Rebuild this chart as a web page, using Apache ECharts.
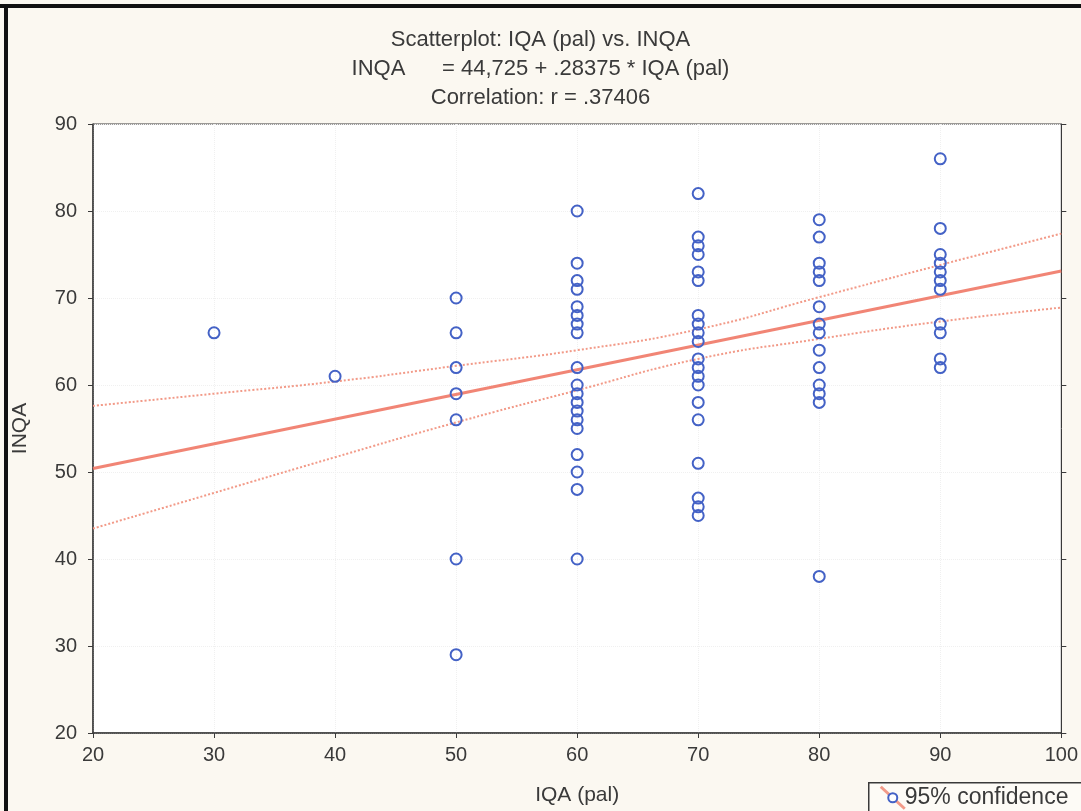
<!DOCTYPE html>
<html>
<head>
<meta charset="utf-8">
<script src="https://cdn.jsdelivr.net/npm/echarts@6/dist/echarts.min.js"></script>
<style>
html,body{margin:0;padding:0;background:#fbf8f1;}
#chart{width:1081px;height:811px;}
</style>
</head>
<body>
<div id="chart"></div>
<script>
// ---- data ----
const titleLines = ['Scatterplot: IQA (pal) vs. INQA', 'INQA      = 44,725 + .28375 * IQA (pal)', 'Correlation: r = .37406'];
const xName = 'IQA (pal)';
const yName = 'INQA';
const legendLabel = '95% confidence';

const xTicks = [20, 30, 40, 50, 60, 70, 80, 90, 100];
const yTicks = [20, 30, 40, 50, 60, 70, 80, 90];

const inqaAt30 = [66];
const inqaAt40 = [61];
const inqaAt50 = [70, 66, 62, 59, 56, 40, 29];
const inqaAt60 = [80, 74, 72, 71, 69, 68, 67, 66, 62, 60, 59, 58, 57, 56, 55, 52, 50, 48, 40];
const inqaAt70 = [82, 77, 76, 75, 73, 72, 68, 67, 66, 65, 63, 62, 61, 60, 58, 56, 51, 47, 46, 45];
const inqaAt80 = [79, 77, 74, 73, 72, 69, 67, 66, 64, 62, 60, 59, 58, 38];
const inqaAt90 = [86, 78, 75, 74, 73, 72, 71, 67, 66, 63, 62];
const iqaLevels = [30, 40, 50, 60, 70, 80, 90];

const fitX = [20, 100];
const fitY = [50.4, 73.1];

const bandX = [20, 30, 40, 50, 60, 70, 80, 90, 100];
const bandUpper = [57.6, 59.0, 60.4, 62.2, 64.0, 66.4, 70.1, 73.8, 77.4];
const bandLower = [43.5, 47.6, 51.7, 55.7, 59.4, 63.0, 65.3, 67.3, 68.9];

// ---- build series data ----
const groups = [inqaAt30, inqaAt40, inqaAt50, inqaAt60, inqaAt70, inqaAt80, inqaAt90];
const points = [];
groups.forEach((g, i) => g.forEach(v => points.push([iqaLevels[i], v])));
const fitData = fitX.map((x, i) => [x, fitY[i]]);
const upData = bandX.map((x, i) => [x, bandUpper[i]]);
const loData = bandX.map((x, i) => [x, bandLower[i]]);

const FONT = '"Liberation Sans", Arial, sans-serif';
const TXT = '#3a3a3a';
const BLUE = '#4462c6';

const chart = echarts.init(document.getElementById('chart'), null, {renderer: 'canvas'});
chart.setOption({
  backgroundColor: '#fbf8f1',
  animation: false,
  title: {
    text: titleLines.join('\n'),
    left: 'center',
    top: 20,
    textStyle: {fontFamily: FONT, fontSize: 22, fontWeight: 'normal', color: TXT, lineHeight: 29}
  },
  grid: {left: 93, right: 18, top: 124, bottom: 77, show: true, backgroundColor: '#ffffff', borderColor: '#3a3a3a', borderWidth: 1},
  xAxis: [{
    type: 'value', min: 20, max: 100, interval: 10,
    name: xName, nameLocation: 'middle', nameGap: 52,
    nameTextStyle: {fontFamily: FONT, fontSize: 21, color: TXT},
    axisLine: {show: true, onZero: false, lineStyle: {color: '#3a3a3a', width: 1.5}},
    axisTick: {show: true, length: 5, lineStyle: {color: '#3a3a3a'}},
    axisLabel: {fontFamily: FONT, fontSize: 20, color: TXT, margin: 12},
    splitLine: {show: true, lineStyle: {color: '#f0f0f0', type: 'dotted'}}
  }],
  yAxis: [{
    type: 'value', min: 20, max: 90, interval: 10,
    name: yName, nameLocation: 'middle', nameGap: 62, nameRotate: 90,
    nameTextStyle: {fontFamily: FONT, fontSize: 21, color: TXT},
    axisLine: {show: true, onZero: false, lineStyle: {color: '#3a3a3a', width: 1.5}},
    axisTick: {show: true, length: 5, lineStyle: {color: '#3a3a3a'}},
    axisLabel: {fontFamily: FONT, fontSize: 20, color: TXT, margin: 16},
    splitLine: {show: true, lineStyle: {color: '#f0f0f0', type: 'dotted'}}
  }, {
    type: 'value', min: 20, max: 90, interval: 10, position: 'right',
    axisLine: {show: true, onZero: false, lineStyle: {color: '#3a3a3a', width: 1}},
    axisTick: {show: true, length: 5, lineStyle: {color: '#3a3a3a'}},
    axisLabel: {show: false}, splitLine: {show: false}
  }],
  series: [
    {type: 'line', data: upData, smooth: true, symbol: 'none', z: 2,
     lineStyle: {color: '#f29a88', width: 2, type: 'dotted'}},
    {type: 'line', data: loData, smooth: true, symbol: 'none', z: 2,
     lineStyle: {color: '#f29a88', width: 2, type: 'dotted'}},
    {type: 'line', data: fitData, symbol: 'none', z: 3,
     lineStyle: {color: '#f07866', width: 3, opacity: 0.9}},
    {type: 'scatter', name: legendLabel, data: points, symbol: 'circle', symbolSize: 11, z: 5,
     itemStyle: {color: 'rgba(255,255,255,0)', borderColor: BLUE, borderWidth: 2, opacity: 1}}
  ],
  graphic: [
    {type: 'rect', shape: {x: 0, y: 4, width: 1081, height: 4}, style: {fill: '#111'}, silent: true},
    {type: 'rect', shape: {x: 4, y: 4, width: 4, height: 807}, style: {fill: '#111'}, silent: true},
    {type: 'group', left: 868, top: 782, children: [
      {type: 'rect', shape: {x: 0, y: 0, width: 230, height: 40}, style: {fill: '#fdfbf6', stroke: '#3a3a3a', lineWidth: 1.5}},
      {type: 'line', shape: {x1: 12, y1: 4, x2: 36, y2: 26}, style: {stroke: '#f29a88', lineWidth: 3}},
      {type: 'circle', shape: {cx: 24, cy: 15, r: 4.5}, style: {fill: '#fff', stroke: BLUE, lineWidth: 2}},
      {type: 'text', style: {x: 36, y: 15, text: legendLabel, font: '23px "Liberation Sans", Arial, sans-serif', fill: TXT, verticalAlign: 'middle'}}
    ]}
  ]
});
</script>
</body>
</html>
